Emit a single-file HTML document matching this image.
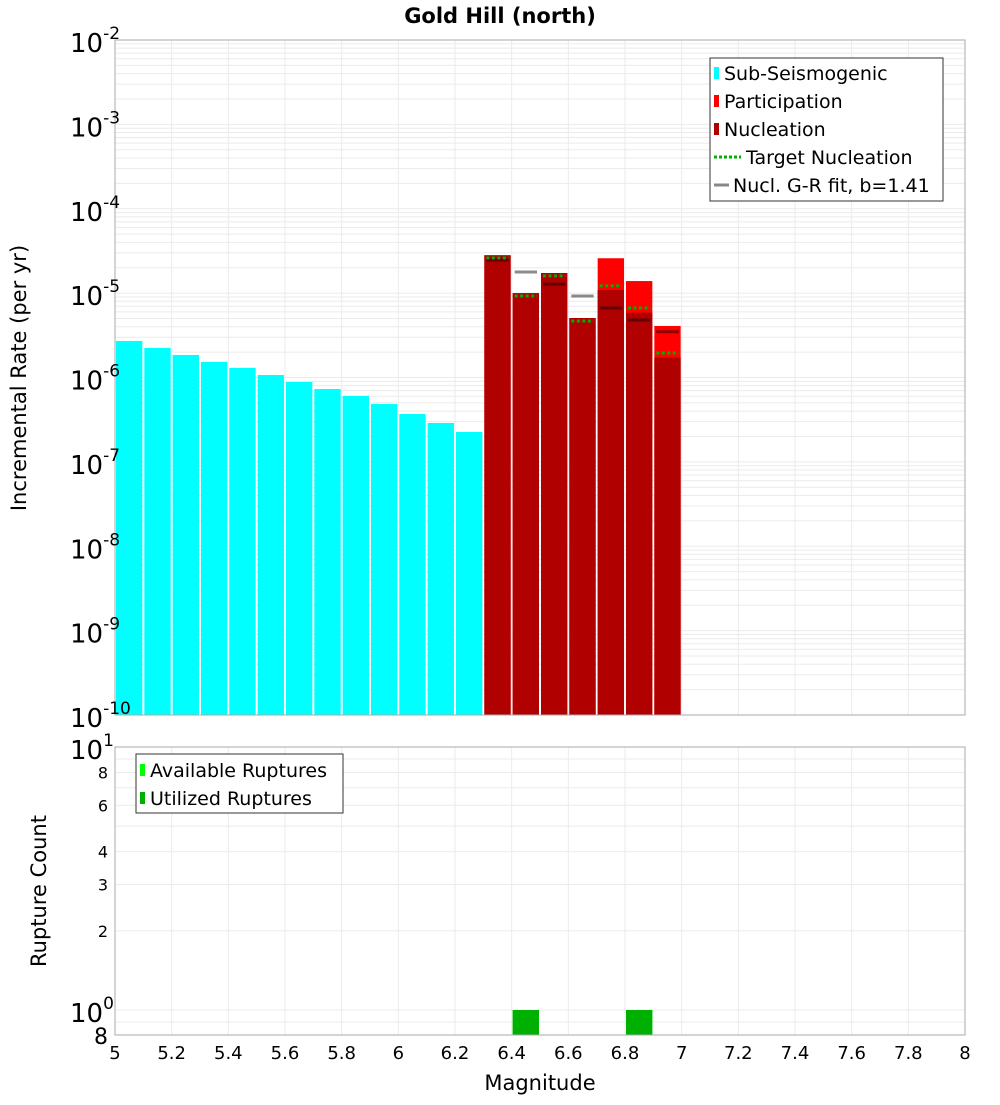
<!DOCTYPE html>
<html><head><meta charset="utf-8"><style>
body{margin:0;background:#fff;font-family:"Liberation Sans","DejaVu Sans",sans-serif}
</style></head><body>
<svg id="c" width="1000" height="1100" xmlns="http://www.w3.org/2000/svg" font-family="DejaVu Sans, Liberation Sans, sans-serif">
<text x="500" y="23" text-anchor="middle" font-size="21" font-weight="bold">Gold Hill (north)</text>
<g id="topg"></g><g id="botg"></g>
</svg>
<script>
const subMags=[5.0,5.1,5.2,5.3,5.4,5.5,5.6,5.7,5.8,5.9,6.0,6.1,6.2];
const subRates=[2.71e-6,2.24e-6,1.85e-6,1.53e-6,1.30e-6,1.07e-6,8.85e-7,7.3e-7,6.04e-7,4.85e-7,3.69e-7,2.89e-7,2.26e-7];
const supMags=[6.3,6.4,6.5,6.6,6.7,6.8,6.9];
const partRates=[2.81e-5,1.0e-5,1.73e-5,5.07e-6,2.59e-5,1.39e-5,4.08e-6];
const nuclRates=[2.81e-5,1.0e-5,1.73e-5,5.07e-6,1.09e-5,5.86e-6,1.72e-6];
const targetRates=[2.61e-5,9.25e-6,1.6e-5,4.67e-6,1.22e-5,6.67e-6,1.95e-6];
const fitRates=[2.47e-5,1.78e-5,1.28e-5,9.24e-6,6.67e-6,4.8e-6,3.49e-6];
const rupMags=[6.4,6.8];
const availCounts=[1,1];
const usedCounts=[1,1];
const xTicks=[5,5.2,5.4,5.6,5.8,6,6.2,6.4,6.6,6.8,7,7.2,7.4,7.6,7.8,8];
const yExps=[-2,-3,-4,-5,-6,-7,-8,-9,-10];
const cntTicks=[8,6,4,3,2];

const NS="http://www.w3.org/2000/svg";
const X0=115,X1=965;
const xs=m=>X0+(m-5)/3*(X1-X0);
const T0=40,T1=715;
const yt=v=>T0+(-2-Math.log10(v))/8*(T1-T0);
const B0=747,B1=1035;
const yb=v=>1010-Math.log10(v)*263;
function el(p,tag,a,txt){const e=document.createElementNS(NS,tag);for(const k in a)e.setAttribute(k,a[k]);if(txt!==undefined)e.textContent=txt;p.appendChild(e);return e;}
const topG=document.getElementById('topg'),botG=document.getElementById('botg');
for(let d=-10;d<-2;d++)for(let k=1;k<10;k++){const y=yt(k*Math.pow(10,d));const g=el(topG,'line',{x1:X0,x2:X1,y1:y,y2:y,stroke:'#ebebeb','stroke-width':1});

}
xTicks.forEach(t=>{const g=el(topG,'line',{x1:xs(t),x2:xs(t),y1:T0,y2:T1,stroke:'#ebebeb'});


const g2=el(botG,'line',{x1:xs(t),x2:xs(t),y1:B0,y2:B1,stroke:'#ebebeb'});

});
[0.9,1,2,3,4,5,6,7,8,9].forEach(v=>{const g=el(botG,'line',{x1:X0,x2:X1,y1:yb(v),y2:yb(v),stroke:'#ebebeb'});

});
subMags.forEach((m,i)=>{const y=yt(subRates[i]);const r=el(topG,'rect',{x:xs(m)+1,y:y,width:xs(m+0.1)-xs(m)-2,height:T1-y,fill:'#00ffff'});

});
supMags.forEach((m,i)=>{const x=xs(m)+1,w=xs(m+0.1)-xs(m)-2;
let y=yt(partRates[i]);const r=el(topG,'rect',{x:x,y:y,width:w,height:T1-y,fill:'#ff0000'});


y=yt(nuclRates[i]);const n=el(topG,'rect',{x:x,y:y,width:w,height:T1-y,fill:'#b00000'});


y=yt(fitRates[i]);const f=el(topG,'line',{x1:x+2,x2:x+w-2,y1:y,y2:y,stroke:'#000','stroke-opacity':0.45,'stroke-width':3});


y=yt(targetRates[i]);const t=el(topG,'line',{x1:x+2,x2:x+w-2,y1:y,y2:y,stroke:'#00b000','stroke-width':3,'stroke-dasharray':'3,2.5'});

});
el(topG,'rect',{x:X0,y:T0,width:X1-X0,height:T1-T0,fill:'none',stroke:'#aaa'});
yExps.forEach(e=>{const y=yt(Math.pow(10,e));const t=el(topG,'text',{x:70,y:y+12,'font-size':26,fill:'#000'});


el(t,'tspan',{},'10');el(t,'tspan',{dy:-13,'font-size':17},String(e));});
rupMags.forEach((m,i)=>{const x=xs(m)+1,w=xs(m+0.1)-xs(m)-2;let y=yb(availCounts[i]);
const a=el(botG,'rect',{x:x,y:y,width:w,height:B1-y,fill:'#00ff00'});


y=yb(usedCounts[i]);const u=el(botG,'rect',{x:x,y:y,width:w,height:B1-y,fill:'#00b000'});

});
el(botG,'rect',{x:X0,y:B0,width:X1-X0,height:B1-B0,fill:'none',stroke:'#aaa'});
cntTicks.forEach(v=>{const t=el(botG,'text',{x:108,y:yb(v)+6,'font-size':16,'text-anchor':'end'},String(v));

});
[[1,0],[10,1]].forEach(([v,e])=>{const t=el(botG,'text',{x:70,y:yb(v)+12,'font-size':26});


el(t,'tspan',{},'10');el(t,'tspan',{dy:-13,'font-size':17},String(e));});
{const t=el(botG,'text',{x:108,y:1044,'font-size':22,'text-anchor':'end'},'8');

}
xTicks.forEach(v=>{const t=el(botG,'text',{x:xs(v),y:1059,'font-size':18,'text-anchor':'middle'},String(v));

});
</script>
<svg style="position:absolute;left:0;top:0" width="1000" height="1100" font-family="DejaVu Sans, Liberation Sans, sans-serif">
<text x="540" y="1090" font-size="21" text-anchor="middle">Magnitude</text>
<text transform="translate(26,378) rotate(-90)" font-size="21" text-anchor="middle">Incremental Rate (per yr)</text>
<text transform="translate(46,891) rotate(-90)" font-size="21" text-anchor="middle">Rupture Count</text>
<g>
<rect x="710" y="58" width="233" height="143" fill="#fff" stroke="#333"/>
<rect x="714" y="67" width="5" height="12" fill="#00ffff"/><text x="724" y="80" font-size="19">Sub-Seismogenic</text>
<rect x="714" y="95" width="5" height="12" fill="#ff0000"/><text x="724" y="108" font-size="19">Participation</text>
<rect x="714" y="123" width="5" height="12" fill="#b00000"/><text x="724" y="136" font-size="19">Nucleation</text>
<line x1="714" x2="741" y1="157" y2="157" stroke="#00b000" stroke-width="3" stroke-dasharray="3,2"/><text x="746" y="164" font-size="19">Target Nucleation</text>
<line x1="714" x2="729" y1="185" y2="185" stroke="#888" stroke-width="3"/><text x="733" y="192" font-size="19">Nucl. G-R fit, b=1.41</text>
</g>
<g>
<rect x="136" y="754" width="207" height="59" fill="#fff" stroke="#333"/>
<rect x="140" y="764" width="5" height="12" fill="#00ff00"/><text x="150" y="777" font-size="19">Available Ruptures</text>
<rect x="140" y="792" width="5" height="12" fill="#00b000"/><text x="150" y="805" font-size="19">Utilized Ruptures</text>
</g>
</svg>
</body></html>
